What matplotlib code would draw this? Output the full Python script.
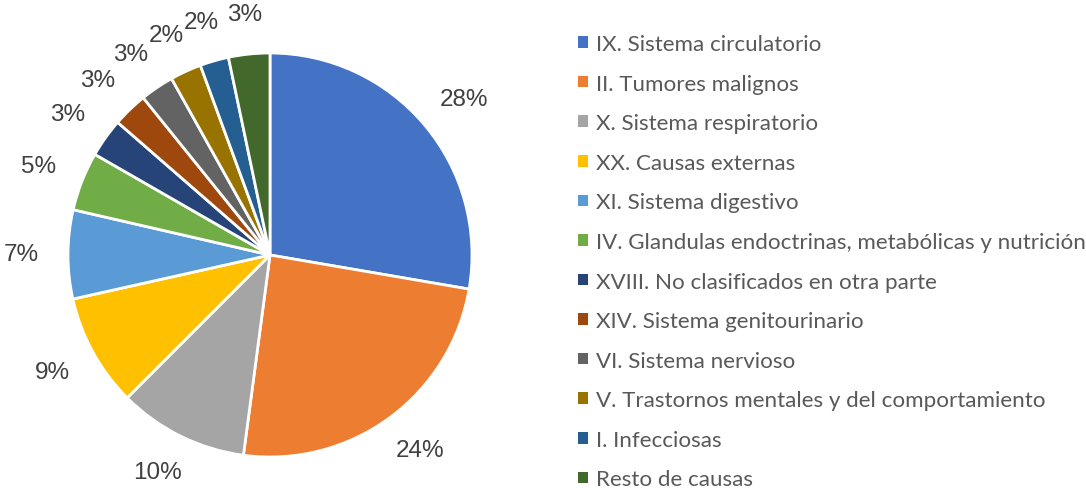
import matplotlib
matplotlib.use("Agg")
import matplotlib.pyplot as plt
import numpy as np
from matplotlib.patches import Patch

causes = [
    "IX. Sistema circulatorio",
    "II. Tumores malignos",
    "X. Sistema respiratorio",
    "XX. Causas externas",
    "XI. Sistema digestivo",
    "IV. Glandulas endoctrinas, metabólicas y nutrición",
    "XVIII. No clasificados en otra parte",
    "XIV. Sistema genitourinario",
    "VI. Sistema nervioso",
    "V. Trastornos mentales y del comportamiento",
    "I. Infecciosas",
    "Resto de causas",
]
shares = [27.7, 24.4, 10.4, 9.0, 7.1, 4.7, 3.1, 2.8, 2.7, 2.5, 2.3, 3.3]
pct_labels = ["28%", "24%", "10%", "9%", "7%", "5%", "3%", "3%", "3%", "2%", "2%", "3%"]
colors = ["#4472C4", "#ED7D31", "#A5A5A5", "#FFC000", "#5B9BD5", "#70AD47",
          "#264478", "#9E480E", "#636363", "#997300", "#255E91", "#43682B"]

W, H = 1086, 489
fig = plt.figure(figsize=(W / 100, H / 100), dpi=100)

cx, cy, r = 270, 256, 202
ax = fig.add_axes([(cx - r) / W, (H - cy - r) / H, 2 * r / W, 2 * r / H])
wedges, texts = ax.pie(
    shares,
    colors=colors,
    labels=pct_labels,
    startangle=90,
    counterclock=False,
    labeldistance=1.2,
    wedgeprops=dict(edgecolor="white", linewidth=2),
    textprops=dict(fontsize=17.5, color="#404040", family="Liberation Sans"),
)
ax.set_xlim(-1, 1)
ax.set_ylim(-1, 1)
ax.set_aspect("equal")

# place labels like Excel: box edge at a fixed gap outside the pie
fig.canvas.draw()
renderer = fig.canvas.get_renderer()
gap = 0.16
for w, t in zip(wedges, texts):
    th = np.deg2rad((w.theta1 + w.theta2) / 2)
    bb = t.get_window_extent(renderer)
    hw = bb.width / 2 / r * 0.8
    hh = bb.height / 2 / r * 0.75
    x = (1 + gap) * np.cos(th) + hw * np.cos(th)
    y = (1 + gap) * np.sin(th) + hh * np.sin(th)
    t.set_position((x, y))
    t.set_horizontalalignment("center")
    t.set_verticalalignment("center")

handles = [Patch(facecolor=c, edgecolor="none") for c in colors]
fig.legend(
    handles,
    causes,
    loc="upper left",
    bbox_to_anchor=(558 / W, 1 - 15 / H),
    frameon=False,
    handlelength=0.42,
    handleheight=0.42,
    handletextpad=0.36,
    labelspacing=0.875,
    prop=dict(family="Lato", size=16.1),
    labelcolor="#595959",
)

fig.savefig("out.png", dpi=100)
